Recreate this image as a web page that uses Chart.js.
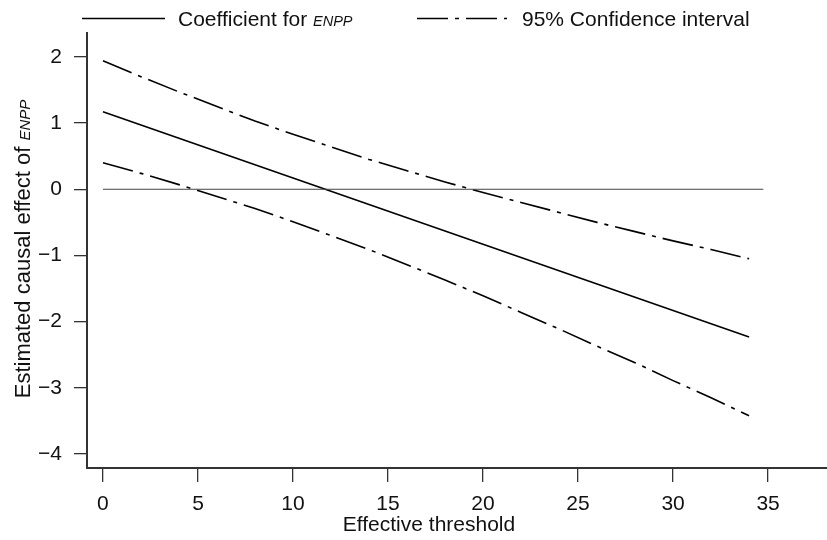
<!DOCTYPE html>
<html>
<head>
<meta charset="utf-8">
<script src="https://cdn.jsdelivr.net/npm/chart.js@4/dist/chart.umd.min.js"></script>
<style>
  html, body { margin: 0; padding: 0; background: #fff; }
  canvas { display: block; }
</style>
</head>
<body>
<canvas id="myChart" width="827" height="540"></canvas>
<script>
// values
const thresholds = [0, 2, 4, 6, 8, 10, 12, 14, 16, 18, 20, 22, 24, 26, 28, 30, 32, 34];
const coefficient = [1.17, 0.97, 0.77, 0.57, 0.37, 0.17, -0.03, -0.23, -0.43, -0.63, -0.83, -1.03, -1.23, -1.43, -1.63, -1.83, -2.03, -2.23];
const upperCI = [1.94, 1.70, 1.47, 1.25, 1.03, 0.83, 0.64, 0.45, 0.28, 0.11, -0.05, -0.20, -0.35, -0.50, -0.64, -0.78, -0.91, -1.05];
const lowerCI = [0.40, 0.24, 0.07, -0.11, -0.29, -0.49, -0.70, -0.91, -1.14, -1.37, -1.61, -1.86, -2.11, -2.37, -2.62, -2.89, -3.15, -3.42];
const zeroLineX = [0, 34.75];
const zeroLineY = [0, 0];
const xTicks = [0, 5, 10, 15, 20, 25, 30, 35];
const yTicks = [-4, -3, -2, -1, 0, 1, 2];

const legendLabels = ["Coefficient for ", "95% Confidence interval"];
const italicTerm = "ENPP";
const xTitle = "Effective threshold";
const yTitle = "Estimated causal effect of ";

const FONT = "'Liberation Sans', Arial, Helvetica, sans-serif";
const AXIS_COLOR = "#333";
const TEXT_COLOR = "#111";
const DOTDASH = [31, 7, 4, 7];

const toPoints = (xs, ys) => xs.map((x, i) => ({ x: x, y: ys[i] }));

const textPlugin = {
  id: "rText",
  afterDraw(chart) {
    const c = chart.ctx;
    c.save();
    c.fillStyle = TEXT_COLOR;
    c.strokeStyle = "#000";
    c.textBaseline = "alphabetic";
    c.textAlign = "left";

    // legend, item 1
    c.lineWidth = 1.6;
    c.setLineDash([]);
    c.beginPath();
    c.moveTo(82, 18.5);
    c.lineTo(165, 18.5);
    c.stroke();
    c.font = "21px " + FONT;
    c.fillText(legendLabels[0], 178, 25.5);
    let w = c.measureText(legendLabels[0]).width;
    c.font = "italic 14.5px " + FONT;
    c.fillText(italicTerm, 178 + w, 25.5);

    // legend, item 2
    c.setLineDash(DOTDASH);
    c.beginPath();
    c.moveTo(417, 18.5);
    c.lineTo(507, 18.5);
    c.stroke();
    c.setLineDash([]);
    c.font = "21px " + FONT;
    c.fillText(legendLabels[1], 522, 25.5);

    // x title
    c.textAlign = "center";
    c.fillText(xTitle, 429, 531);

    // y title, rotated
    c.textAlign = "left";
    c.translate(30, 249);
    c.rotate(-Math.PI / 2);
    c.font = "22px " + FONT;
    const w1 = c.measureText(yTitle).width;
    c.font = "italic 15px " + FONT;
    const w2 = c.measureText(italicTerm).width;
    const start = -(w1 + w2) / 2;
    c.font = "22px " + FONT;
    c.fillText(yTitle, start, 0);
    c.font = "italic 15px " + FONT;
    c.fillText(italicTerm, start + w1, 0);
    c.restore();
  },
};

const chartConfig = {
  type: "line",
  data: {
    datasets: [
      {
        label: "zero",
        data: toPoints(zeroLineX, zeroLineY),
        borderColor: "#444",
        borderWidth: 1,
      },
      {
        label: "Coefficient",
        data: toPoints(thresholds, coefficient),
        borderColor: "#000",
        borderWidth: 1.6,
      },
      {
        label: "Upper",
        data: toPoints(thresholds, upperCI),
        borderColor: "#000",
        borderWidth: 1.6,
        borderDash: DOTDASH,
      },
      {
        label: "Lower",
        data: toPoints(thresholds, lowerCI),
        borderColor: "#000",
        borderWidth: 1.6,
        borderDash: DOTDASH,
      },
    ],
  },
  options: {
    responsive: false,
    animation: false,
    devicePixelRatio: 1,
    layout: { padding: { top: 33, left: 0, right: 0, bottom: 0 } },
    elements: { point: { radius: 0 }, line: { tension: 0 } },
    plugins: { legend: { display: false }, tooltip: { enabled: false } },
    scales: {
      x: {
        type: "linear",
        min: -0.84,
        max: 38.1,
        afterBuildTicks: (s) => { s.ticks = xTicks.map((v) => ({ value: v })); },
        afterFit: (s) => { s.height = 72; },
        border: { display: true, color: AXIS_COLOR, width: 2 },
        grid: { drawOnChartArea: false, drawTicks: true, tickLength: 14, color: AXIS_COLOR, lineWidth: 1.3 },
        ticks: { color: TEXT_COLOR, font: { family: FONT, size: 21 }, padding: 10, maxRotation: 0 },
      },
      y: {
        type: "linear",
        min: -4.21,
        max: 2.36,
        afterBuildTicks: (s) => { s.ticks = yTicks.map((v) => ({ value: v })); },
        afterFit: (s) => { s.width = 87; },
        border: { display: true, color: AXIS_COLOR, width: 2 },
        grid: { drawOnChartArea: false, drawTicks: true, tickLength: 13, color: AXIS_COLOR, lineWidth: 1.3 },
        ticks: {
          color: TEXT_COLOR,
          font: { family: FONT, size: 21 },
          padding: 12,
          callback: (v) => (v < 0 ? "\u2212" + Math.abs(v) : String(v)),
        },
      },
    },
  },
  plugins: [textPlugin],
};

// eslint-disable-next-line
const myChart = new Chart(document.getElementById("myChart"), chartConfig);
</script>
</body>
</html>
